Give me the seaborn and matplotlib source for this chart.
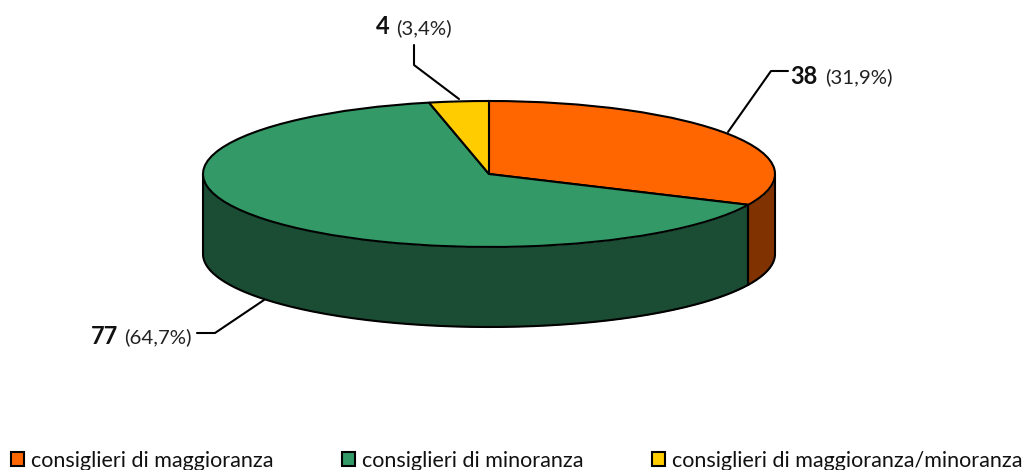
import numpy as np
import seaborn as sns
import matplotlib
matplotlib.use("Agg")
from matplotlib import pyplot as plt
from matplotlib.patches import Patch

categories = ["consiglieri di maggioranza", "consiglieri di minoranza", "consiglieri di maggioranza/minoranza"]
values = [38, 77, 4]
percent_labels = ["(31,9%)", "(64,7%)", "(3,4%)"]
top_colors = ["#FF6600", "#339966", "#FFCC00"]
side_colors = ["#803300", "#1A4D33", "#806600"]

sns.set_theme(style="white")
plt.rcParams['font.family'] = ['Lato', 'DejaVu Sans']

# pixel geometry of the picture
cx, cy, rx, ry, depth = 489, 174, 286, 73, 80
W, H = 1025, 470

def px(x, y):
    return (x - cx) / rx, (cy - y) / ry

fig = plt.figure(figsize=(W / 100, H / 100), dpi=100)
ax = fig.add_axes([0, 0, 1, 1])

edge = dict(edgecolor="black", linewidth=1.5)
ax.pie(values, colors=top_colors, startangle=90, counterclock=False,
       wedgeprops=dict(zorder=3, **edge))
ax.set_aspect("auto")
ax.set_xlim(px(0, 0)[0], px(W, 0)[0])
ax.set_ylim(px(0, H)[1], px(0, 0)[1])
ax.axis("off")

# side wall, only the front half of the ellipse can be seen
d = depth / ry
bounds = 90 - np.cumsum([0] + values) / sum(values) * 360
for start, stop, col in zip(bounds[:-1], bounds[1:], side_colors):
    for lo, hi in [(-180, 0), (180, 360), (-540, -360)]:
        a, b = max(stop, lo), min(start, hi)
        if b <= a:
            continue
        t = np.radians(np.linspace(a, b, 200))
        ax.fill_between(np.cos(t), np.sin(t), np.sin(t) - d, color=col, lw=0, zorder=1)
        ax.plot(np.cos(t), np.sin(t) - d, color="black", lw=1.5, zorder=2)
        for tt in (t[0], t[-1]):
            ax.plot([np.cos(tt)] * 2, [np.sin(tt), np.sin(tt) - d], color="black", lw=1.5, zorder=2)

# leader lines
leaders = [[(728, 132), (771, 71), (788, 71)],
           [(264, 300), (215, 333), (197, 333)],
           [(459, 99), (414, 65), (414, 45)]]
for pts in leaders:
    xy = np.array([px(*p) for p in pts])
    ax.plot(xy[:, 0], xy[:, 1], color="black", lw=1.5, zorder=0)

# labels: bold count followed by the percentage
label_pos = [(790, 76), (91, 336), (376, 27)]
for v, p, (x, y), g in zip(values, percent_labels, label_pos, [35, 33, 20]):
    ax.text(*px(x, y), str(v), fontsize=17, fontweight="bold", color="#111111", ha="left", va="center")
    ax.text(*px(x + g, y + 1), p, fontsize=14.7, color="#222222", ha="left", va="center")

handles = [Patch(facecolor=c, edgecolor="black", linewidth=1.5) for c in top_colors]
fig.legend(handles, categories, ncol=3, frameon=False, fontsize=15.5, loc="lower left",
           bbox_to_anchor=(11 / W, -1 / H), borderaxespad=0, borderpad=0,
           handlelength=0.62, handleheight=0.62,
           handletextpad=0.33, columnspacing=3.15, labelcolor="#111111")

fig.savefig("out.png", dpi=100)
